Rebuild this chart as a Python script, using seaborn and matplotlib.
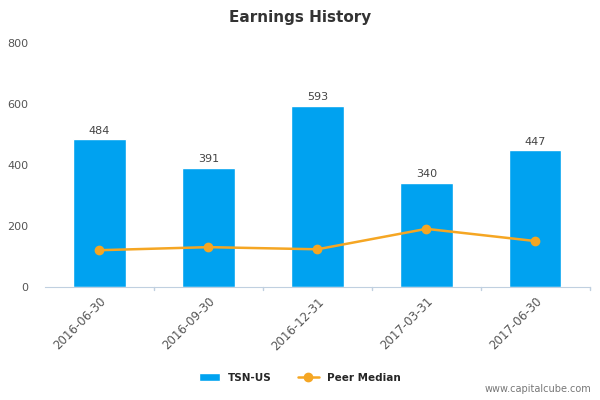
import matplotlib
matplotlib.use("Agg")
import matplotlib.pyplot as plt
import seaborn as sns
import pandas as pd

periods = ["2016-06-30", "2016-09-30", "2016-12-31", "2017-03-31", "2017-06-30"]
tsn_values = [484, 391, 593, 340, 447]
peer_median = [120, 130, 123, 190, 150]
y_ticks = [0, 200, 400, 600, 800]

df = pd.DataFrame({"period": periods, "TSN-US": tsn_values, "Peer Median": peer_median})

sns.set_style("white")
fig = plt.figure(figsize=(6, 4), dpi=100)
ax = fig.add_axes([0.075, 0.283, 0.908, 0.61])

sns.barplot(data=df, x="period", y="TSN-US", color="#00a2f0", width=0.48,
            saturation=1, ax=ax, zorder=2)
line, = ax.plot(range(len(periods)), peer_median, color="#f5a623", lw=1.8,
                marker="o", ms=6, zorder=3)

for i, v in enumerate(tsn_values):
    ax.text(i, v + 12, str(v), ha="center", va="bottom", fontsize=8, color="#444444")

ax.set_ylim(0, 800)
ax.set_xlim(-0.5, len(periods) - 0.5)
ax.set_yticks(y_ticks)
ax.set_yticklabels([str(t) for t in y_ticks], fontsize=8, color="#555555")
ax.set_xticks(range(len(periods)))
ax.set_xticklabels(periods, rotation=45, ha="right", rotation_mode="anchor",
                   fontsize=8.5, color="#555555")
ax.set_xlabel("")
ax.set_ylabel("")
ax.tick_params(axis="y", length=0, pad=12)
ax.tick_params(axis="x", length=0, pad=6)
for s in ["top", "right", "left"]:
    ax.spines[s].set_visible(False)
ax.spines["bottom"].set_color("#c0d0e0")
for xb in [0.5, 1.5, 2.5, 3.5, 4.5]:
    ax.plot([xb, xb], [0, -10], color="#c0d0e0", lw=1, clip_on=False)

fig.suptitle("Earnings History", y=0.975, fontsize=11, color="#333333", fontweight="bold")
bar_handle = ax.patches[0]
fig.legend([bar_handle, line], ["TSN-US", "Peer Median"], loc="lower center",
           bbox_to_anchor=(0.5, 0.02), ncol=2, frameon=False,
           prop={"size": 7.5, "weight": "bold"}, handlelength=2, columnspacing=2.5)
fig.text(0.985, 0.015, "www.capitalcube.com", ha="right", va="bottom",
         fontsize=7, color="#777777")

fig.savefig("out.png", dpi=100)
